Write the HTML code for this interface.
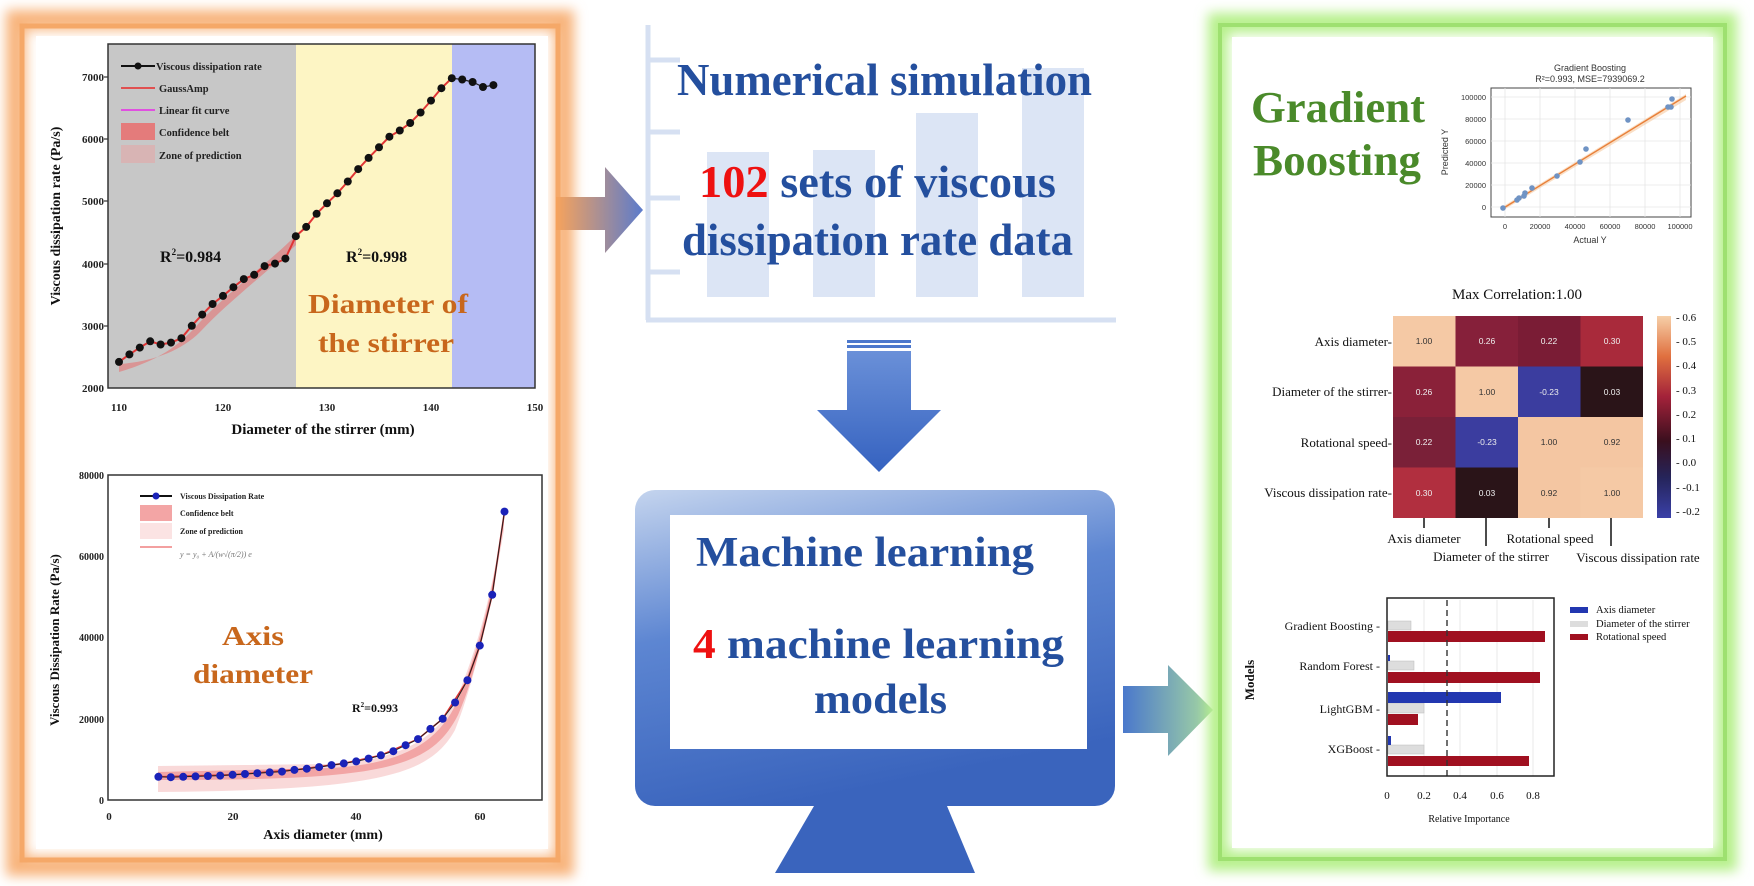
<!DOCTYPE html>
<html><head><meta charset="utf-8"><style>
html,body{margin:0;padding:0;background:#fff;}
svg{display:block;}
.s{font-family:"Liberation Serif",serif;}
.a{font-family:"Liberation Sans",sans-serif;}
</style></head><body>
<svg width="1754" height="886" viewBox="0 0 1754 886" xmlns="http://www.w3.org/2000/svg">
<defs>
<filter id="glow" x="-10%" y="-10%" width="120%" height="120%"><feGaussianBlur stdDeviation="6"/></filter>
<linearGradient id="ar1" x1="0" x2="1" y1="0" y2="0"><stop offset="0" stop-color="#f7a35c"/><stop offset="1" stop-color="#5b7bcc"/></linearGradient>
<linearGradient id="ar3" x1="0" x2="1" y1="0" y2="0"><stop offset="0" stop-color="#4a78cc"/><stop offset="1" stop-color="#a7d9a0"/></linearGradient>
<linearGradient id="mon" x1="0" x2="0.3" y1="0" y2="1"><stop offset="0" stop-color="#c4d4ee"/><stop offset="0.45" stop-color="#5d86d2"/><stop offset="1" stop-color="#3a64bd"/></linearGradient>
<linearGradient id="dn" x1="0" x2="0" y1="0" y2="1"><stop offset="0" stop-color="#6a90d8"/><stop offset="1" stop-color="#3562c0"/></linearGradient>
<linearGradient id="cb" x1="0" x2="0" y1="0" y2="1"><stop offset="0" stop-color="#f6cfa8"/><stop offset="0.2" stop-color="#e0703f"/><stop offset="0.4" stop-color="#a3223a"/><stop offset="0.62" stop-color="#3a0f1e"/><stop offset="0.8" stop-color="#25245a"/><stop offset="1" stop-color="#3a40a8"/></linearGradient>
</defs>

<!-- LEFT ORANGE PANEL -->
<rect x="16" y="20" width="548" height="846" fill="none" stroke="#f8b47c" stroke-width="20" filter="url(#glow)"/>
<rect x="22" y="26" width="536" height="834" fill="none" stroke="#f5a868" stroke-width="5"/>
<rect x="36" y="36" width="512" height="813" fill="#fff"/>

<!-- Plot 1 -->
<rect x="108" y="44" width="188" height="344" fill="#c7c7c7"/>
<rect x="296" y="44" width="156" height="344" fill="#fdf5c4"/>
<rect x="452" y="44" width="83" height="344" fill="#b5bcf4"/>
<rect x="108" y="44" width="427" height="344" fill="none" stroke="#333" stroke-width="1.5"/>
<path d="M119 372 C 160 360 180 345 200 322 C 230 290 270 262 296 235 L 296 245 C 270 270 230 300 200 332 C 180 352 150 362 119 364 Z" fill="#e86b6b" opacity="0.55"/>
<polyline fill="none" stroke="#e03535" stroke-width="2" points="119,361.9 129.4,354.4 139.8,347.6 150.2,341.3 160.6,344.5 171,342.6 181.4,338.2 191.8,325.8 202.2,314.6 212.6,304 223,295.9 233.4,287.2 243.8,279.1 254.2,274.8 264.6,266.1 275,263.6 285.4,258.6 295.8,236.2 306.2,226.9 316.6,213.8 327,203.3 337.4,193.3 347.8,181.5 358.2,169.1 368.6,157.9 379,147.3 389.4,136.7 399.8,130.5 410.2,123 420.6,112.5 431,100.6 441.4,88.2 451.8,78.2"/>
<polyline fill="none" stroke="#222" stroke-width="1.2" points="451.8,78.2 462.2,79.5 472.6,82 483,87 493.4,85.1"/>
<g fill="#111">
<circle cx="119" cy="361.9" r="4"/><circle cx="129.4" cy="354.4" r="4"/><circle cx="139.8" cy="347.6" r="4"/><circle cx="150.2" cy="341.3" r="4"/><circle cx="160.6" cy="344.5" r="4"/><circle cx="171" cy="342.6" r="4"/><circle cx="181.4" cy="338.2" r="4"/><circle cx="191.8" cy="325.8" r="4"/><circle cx="202.2" cy="314.6" r="4"/><circle cx="212.6" cy="304" r="4"/><circle cx="223" cy="295.9" r="4"/><circle cx="233.4" cy="287.2" r="4"/><circle cx="243.8" cy="279.1" r="4"/><circle cx="254.2" cy="274.8" r="4"/><circle cx="264.6" cy="266.1" r="4"/><circle cx="275" cy="263.6" r="4"/><circle cx="285.4" cy="258.6" r="4"/><circle cx="295.8" cy="236.2" r="4"/><circle cx="306.2" cy="226.9" r="4"/><circle cx="316.6" cy="213.8" r="4"/><circle cx="327" cy="203.3" r="4"/><circle cx="337.4" cy="193.3" r="4"/><circle cx="347.8" cy="181.5" r="4"/><circle cx="358.2" cy="169.1" r="4"/><circle cx="368.6" cy="157.9" r="4"/><circle cx="379" cy="147.3" r="4"/><circle cx="389.4" cy="136.7" r="4"/><circle cx="399.8" cy="130.5" r="4"/><circle cx="410.2" cy="123" r="4"/><circle cx="420.6" cy="112.5" r="4"/><circle cx="431" cy="100.6" r="4"/><circle cx="441.4" cy="88.2" r="4"/><circle cx="451.8" cy="78.2" r="4"/><circle cx="462.2" cy="79.5" r="4"/><circle cx="472.6" cy="82" r="4"/><circle cx="483" cy="87" r="4"/><circle cx="493.4" cy="85.1" r="4"/>
</g>
<!-- legend -->
<g class="s" font-size="10.5" font-weight="bold" fill="#222">
<line x1="121" y1="66" x2="155" y2="66" stroke="#111" stroke-width="2"/><circle cx="138" cy="66" r="3.5" fill="#111"/>
<text x="156" y="70">Viscous dissipation rate</text>
<line x1="121" y1="88" x2="155" y2="88" stroke="#e05050" stroke-width="2"/><text x="159" y="92">GaussAmp</text>
<line x1="121" y1="110" x2="155" y2="110" stroke="#e050e0" stroke-width="2"/><text x="159" y="114">Linear fit curve</text>
<rect x="121" y="123" width="34" height="17" fill="#e47b7b"/><text x="159" y="136">Confidence belt</text>
<rect x="121" y="145" width="34" height="18" fill="#d8b4b4"/><text x="159" y="159">Zone of prediction</text>
</g>
<text class="s" x="160" y="262" font-size="16" font-weight="bold" fill="#111">R<tspan font-size="9" dy="-7">2</tspan><tspan dy="7">=0.984</tspan></text>
<text class="s" x="346" y="262" font-size="16" font-weight="bold" fill="#111">R<tspan font-size="9" dy="-7">2</tspan><tspan dy="7">=0.998</tspan></text>
<text class="s" x="388" y="313" font-size="27" font-weight="bold" fill="#c8671c" text-anchor="middle" textLength="160" lengthAdjust="spacingAndGlyphs">Diameter of</text>
<text class="s" x="386" y="352" font-size="27" font-weight="bold" fill="#c8671c" text-anchor="middle" textLength="136" lengthAdjust="spacingAndGlyphs">the stirrer</text>
<g class="s" font-size="11" font-weight="bold" fill="#222" text-anchor="end">
<text x="104" y="81">7000</text><text x="104" y="143">6000</text><text x="104" y="205">5000</text><text x="104" y="268">4000</text><text x="104" y="330">3000</text><text x="104" y="392">2000</text>
</g>
<g stroke="#333" stroke-width="1.2"><line x1="104" y1="77" x2="108" y2="77"/><line x1="104" y1="139" x2="108" y2="139"/><line x1="104" y1="201" x2="108" y2="201"/><line x1="104" y1="264" x2="108" y2="264"/><line x1="104" y1="326" x2="108" y2="326"/></g>
<g class="s" font-size="11" font-weight="bold" fill="#222" text-anchor="middle">
<text x="119" y="411">110</text><text x="223" y="411">120</text><text x="327" y="411">130</text><text x="431" y="411">140</text><text x="535" y="411">150</text>
</g>
<text class="s" x="323" y="434" font-size="15" font-weight="bold" fill="#111" text-anchor="middle">Diameter of the stirrer  (mm)</text>
<text class="s" transform="translate(60,216) rotate(-90)" font-size="14" font-weight="bold" fill="#111" text-anchor="middle">Viscous dissipation rate (Pa/s)</text>

<!-- Plot 2 -->
<rect x="108" y="475" width="434" height="325" fill="none" stroke="#333" stroke-width="1.5"/>
<path d="M158 766 L 330 764 C 400 760 440 740 460 690 C 480 640 495 580 504 512 L 504 530 C 490 610 475 680 455 730 C 430 775 380 790 158 792 Z" fill="#f7c9c9" opacity="0.7"/>
<path d="M158 772 L 330 768 C 400 764 440 745 460 695 C 480 645 495 585 504 512 L 504 520 C 492 600 478 670 458 715 C 430 770 380 780 158 780 Z" fill="#ef8f8f" opacity="0.7"/>
<polyline fill="none" stroke="#d33" stroke-width="1.6" points="158.4,776.8 232.6,774.8 294.4,769.9 343.8,763.4 380.9,755.3 418,739.1 442.7,718.8 467.4,680.2 479.8,645.6 492.2,594.8 504.5,511.6"/>
<polyline fill="none" stroke="#222" stroke-width="1" points="158.4,776.8 170.8,777.2 183.2,776.8 195.5,776.4 207.9,776 220.2,775.6 232.6,774.8 245,774 257.3,773.2 269.7,772.4 282,771.6 294.4,769.9 306.8,768.7 319.1,767.1 331.5,765.1 343.8,763.4 356.2,761.4 368.6,758.6 380.9,755.3 393.3,751.2 405.6,745.2 418,739.1 430.4,728.9 442.7,718.8 455.1,702.5 467.4,680.2 479.8,645.6 492.2,594.8 504.5,511.6"/>
<g fill="#1a22b8">
<circle cx="158.4" cy="776.8" r="4"/><circle cx="170.8" cy="777.2" r="4"/><circle cx="183.2" cy="776.8" r="4"/><circle cx="195.5" cy="776.4" r="4"/><circle cx="207.9" cy="776" r="4"/><circle cx="220.2" cy="775.6" r="4"/><circle cx="232.6" cy="774.8" r="4"/><circle cx="245" cy="774" r="4"/><circle cx="257.3" cy="773.2" r="4"/><circle cx="269.7" cy="772.4" r="4"/><circle cx="282" cy="771.6" r="4"/><circle cx="294.4" cy="769.9" r="4"/><circle cx="306.8" cy="768.7" r="4"/><circle cx="319.1" cy="767.1" r="4"/><circle cx="331.5" cy="765.1" r="4"/><circle cx="343.8" cy="763.4" r="4"/><circle cx="356.2" cy="761.4" r="4"/><circle cx="368.6" cy="758.6" r="4"/><circle cx="380.9" cy="755.3" r="4"/><circle cx="393.3" cy="751.2" r="4"/><circle cx="405.6" cy="745.2" r="4"/><circle cx="418" cy="739.1" r="4"/><circle cx="430.4" cy="728.9" r="4"/><circle cx="442.7" cy="718.8" r="4"/><circle cx="455.1" cy="702.5" r="4"/><circle cx="467.4" cy="680.2" r="4"/><circle cx="479.8" cy="645.6" r="4"/><circle cx="492.2" cy="594.8" r="4"/><circle cx="504.5" cy="511.6" r="4"/>
</g>
<g class="s" font-size="8" font-weight="bold" fill="#222">
<line x1="140" y1="496" x2="172" y2="496" stroke="#111" stroke-width="2"/><circle cx="156" cy="496" r="3.5" fill="#1a22b8"/>
<text x="180" y="499">Viscous Dissipation Rate</text>
<rect x="140" y="505" width="32" height="16" fill="#f3a5a5"/><text x="180" y="516">Confidence belt</text>
<rect x="140" y="523" width="32" height="16" fill="#fbe3e3"/><text x="180" y="534">Zone of prediction</text>
<line x1="140" y1="547" x2="172" y2="547" stroke="#f3a0a0" stroke-width="2"/>
<text x="180" y="557" font-style="italic" font-weight="normal" fill="#777" font-size="8">y = y₀ + A/(w√(π/2)) e</text>
</g>
<text class="s" x="253" y="645" font-size="27" font-weight="bold" fill="#c8671c" text-anchor="middle" textLength="62" lengthAdjust="spacingAndGlyphs">Axis</text>
<text class="s" x="253" y="683" font-size="27" font-weight="bold" fill="#c8671c" text-anchor="middle" textLength="120" lengthAdjust="spacingAndGlyphs">diameter</text>
<text class="s" x="352" y="712" font-size="12" font-weight="bold" fill="#111">R<tspan font-size="7" dy="-5">2</tspan><tspan dy="5">=0.993</tspan></text>
<g class="s" font-size="10" font-weight="bold" fill="#222" text-anchor="end">
<text x="104" y="479">80000</text><text x="104" y="560">60000</text><text x="104" y="641">40000</text><text x="104" y="723">20000</text><text x="104" y="804">0</text>
</g>
<g class="s" font-size="11" font-weight="bold" fill="#222" text-anchor="middle">
<text x="109" y="820">0</text><text x="233" y="820">20</text><text x="356" y="820">40</text><text x="480" y="820">60</text>
</g>
<text class="s" x="323" y="839" font-size="14" font-weight="bold" fill="#111" text-anchor="middle">Axis diameter (mm)</text>
<text class="s" transform="translate(59,640) rotate(-90)" font-size="13" font-weight="bold" fill="#111" text-anchor="middle">Viscous Dissipation Rate (Pa/s)</text>

<!-- Arrow 1 -->
<path d="M556 197 L605 197 L605 167 L643 210 L605 253 L605 230 L556 230 Z" fill="url(#ar1)"/>

<!-- Center top box -->
<g fill="#dce5f5">
<rect x="707" y="152" width="62" height="145"/>
<rect x="813" y="150" width="62" height="147"/>
<rect x="916" y="113" width="62" height="184"/>
<rect x="1022" y="68" width="62" height="229"/>
</g>
<g stroke="#d6e0f2" stroke-width="5" fill="none">
<line x1="648" y1="25" x2="648" y2="320"/>
<line x1="646" y1="320" x2="1116" y2="320"/>
<line x1="648" y1="60" x2="680" y2="60"/>
<line x1="648" y1="132" x2="680" y2="132"/>
<line x1="648" y1="198" x2="680" y2="198"/>
<line x1="648" y1="272" x2="680" y2="272"/>
</g>
<text class="s" x="677" y="95" font-size="46" font-weight="bold" fill="#244f9e" textLength="415" lengthAdjust="spacingAndGlyphs">Numerical simulation</text>
<text class="s" x="699" y="197" font-size="46" font-weight="bold" fill="#244f9e" textLength="357" lengthAdjust="spacingAndGlyphs"><tspan fill="#ee1111">102</tspan> sets of viscous</text>
<text class="s" x="682" y="255" font-size="46" font-weight="bold" fill="#244f9e" textLength="391" lengthAdjust="spacingAndGlyphs">dissipation rate data</text>

<!-- Down arrow -->
<rect x="847" y="340" width="64" height="3" fill="#4d78cc"/>
<rect x="847" y="345" width="64" height="3" fill="#4d78cc"/>
<path d="M847 351 L911 351 L911 410 L941 410 L879 472 L817 410 L847 410 Z" fill="url(#dn)"/>

<!-- Monitor -->
<rect x="635" y="490" width="480" height="316" rx="20" fill="url(#mon)"/>
<path d="M814 806 L947 806 L975 873 L775 873 Z" fill="#3a64bd"/>
<rect x="670" y="515" width="417" height="234" fill="#fff"/>
<text class="s" x="696" y="566" font-size="42" font-weight="bold" fill="#244f9e" textLength="338" lengthAdjust="spacingAndGlyphs">Machine learning</text>
<text class="s" x="693" y="658" font-size="42" font-weight="bold" fill="#244f9e" textLength="371" lengthAdjust="spacingAndGlyphs"><tspan fill="#ee1111">4</tspan> machine learning</text>
<text class="s" x="814" y="713" font-size="42" font-weight="bold" fill="#244f9e" textLength="133" lengthAdjust="spacingAndGlyphs">models</text>

<!-- Arrow 3 -->
<path d="M1123 686 L1168 686 L1168 665 L1213 710 L1168 756 L1168 733 L1123 733 Z" fill="url(#ar3)"/>

<!-- GREEN PANEL -->
<rect x="1218" y="23" width="509" height="838" fill="none" stroke="#b6f08a" stroke-width="20" filter="url(#glow)"/>
<rect x="1220" y="25" width="505" height="834" fill="none" stroke="#9ee070" stroke-width="4"/>
<rect x="1232" y="37" width="481" height="811" fill="#fff"/>

<text class="s" x="1251" y="122" font-size="44" font-weight="bold" fill="#4a8a2a" textLength="174" lengthAdjust="spacingAndGlyphs">Gradient</text>
<text class="s" x="1253" y="175" font-size="44" font-weight="bold" fill="#4a8a2a" textLength="168" lengthAdjust="spacingAndGlyphs">Boosting</text>

<!-- scatter -->
<text class="a" x="1590" y="71" font-size="9" fill="#333" text-anchor="middle">Gradient Boosting</text>
<text class="a" x="1590" y="82" font-size="9" fill="#333" text-anchor="middle">R²=0.993, MSE=7939069.2</text>
<rect x="1491" y="88" width="200" height="129" fill="#fff" stroke="#444" stroke-width="1"/>
<g stroke="#e6e6e6" stroke-width="0.8">
<line x1="1505" y1="88" x2="1505" y2="217"/><line x1="1540" y1="88" x2="1540" y2="217"/><line x1="1575" y1="88" x2="1575" y2="217"/><line x1="1610" y1="88" x2="1610" y2="217"/><line x1="1645" y1="88" x2="1645" y2="217"/><line x1="1680" y1="88" x2="1680" y2="217"/>
<line x1="1491" y1="97" x2="1691" y2="97"/><line x1="1491" y1="119" x2="1691" y2="119"/><line x1="1491" y1="141" x2="1691" y2="141"/><line x1="1491" y1="163" x2="1691" y2="163"/><line x1="1491" y1="185" x2="1691" y2="185"/><line x1="1491" y1="207" x2="1691" y2="207"/>
</g>
<path d="M1502 207 L1686 94 L1686 100 L1502 211 Z" fill="#f6c9a0" opacity="0.6"/>
<line x1="1502" y1="209" x2="1686" y2="96" stroke="#e8803a" stroke-width="1.4"/>
<g fill="#6f93c4">
<circle cx="1503" cy="208" r="2.8"/><circle cx="1517" cy="200" r="2.8"/><circle cx="1519" cy="198" r="2.8"/><circle cx="1524" cy="196" r="2.8"/><circle cx="1525" cy="193" r="2.8"/><circle cx="1532" cy="188" r="2.8"/><circle cx="1557" cy="176" r="2.8"/><circle cx="1580" cy="162" r="2.8"/><circle cx="1586" cy="149" r="2.8"/><circle cx="1628" cy="120" r="2.8"/><circle cx="1668" cy="107" r="2.8"/><circle cx="1671" cy="107" r="2.8"/><circle cx="1672" cy="99" r="2.8"/>
</g>
<g class="a" font-size="7.5" fill="#333" text-anchor="end">
<text x="1486" y="100">100000</text><text x="1486" y="122">80000</text><text x="1486" y="144">60000</text><text x="1486" y="166">40000</text><text x="1486" y="188">20000</text><text x="1486" y="210">0</text>
</g>
<g class="a" font-size="7.5" fill="#333" text-anchor="middle">
<text x="1505" y="229">0</text><text x="1540" y="229">20000</text><text x="1575" y="229">40000</text><text x="1610" y="229">60000</text><text x="1645" y="229">80000</text><text x="1680" y="229">100000</text>
</g>
<text class="a" x="1590" y="243" font-size="9" fill="#333" text-anchor="middle">Actual Y</text>
<text class="a" transform="translate(1448,152) rotate(-90)" font-size="9" fill="#333" text-anchor="middle">Predicted Y</text>

<!-- heatmap -->
<text class="s" x="1517" y="299" font-size="15" fill="#111" text-anchor="middle">Max Correlation:1.00</text>
<g>
<rect x="1393" y="316" width="62.5" height="50.5" fill="#f5c9a5"/>
<rect x="1455.5" y="316" width="62.5" height="50.5" fill="#86203a"/>
<rect x="1518" y="316" width="62.5" height="50.5" fill="#7a1c35"/>
<rect x="1580.5" y="316" width="62.5" height="50.5" fill="#a92a3b"/>
<rect x="1393" y="366.5" width="62.5" height="50.5" fill="#8a2139"/>
<rect x="1455.5" y="366.5" width="62.5" height="50.5" fill="#f5c9a5"/>
<rect x="1518" y="366.5" width="62.5" height="50.5" fill="#3b3d9f"/>
<rect x="1580.5" y="366.5" width="62.5" height="50.5" fill="#2a1418"/>
<rect x="1393" y="417" width="62.5" height="50.5" fill="#7a2038"/>
<rect x="1455.5" y="417" width="62.5" height="50.5" fill="#3b3d9f"/>
<rect x="1518" y="417" width="62.5" height="50.5" fill="#f4c6a2"/>
<rect x="1580.5" y="417" width="62.5" height="50.5" fill="#f4c6a2"/>
<rect x="1393" y="467.5" width="62.5" height="50.5" fill="#b12f3f"/>
<rect x="1455.5" y="467.5" width="62.5" height="50.5" fill="#2a1418"/>
<rect x="1518" y="467.5" width="62.5" height="50.5" fill="#f4c6a2"/>
<rect x="1580.5" y="467.5" width="62.5" height="50.5" fill="#f5c9a5"/>
</g>
<g class="a" font-size="8.5" text-anchor="middle">
<text x="1424" y="344" fill="#333">1.00</text><text x="1487" y="344" fill="#eee">0.26</text><text x="1549" y="344" fill="#eee">0.22</text><text x="1612" y="344" fill="#eee">0.30</text>
<text x="1424" y="395" fill="#eee">0.26</text><text x="1487" y="395" fill="#333">1.00</text><text x="1549" y="395" fill="#eee">-0.23</text><text x="1612" y="395" fill="#eee">0.03</text>
<text x="1424" y="445" fill="#eee">0.22</text><text x="1487" y="445" fill="#eee">-0.23</text><text x="1549" y="445" fill="#333">1.00</text><text x="1612" y="445" fill="#333">0.92</text>
<text x="1424" y="496" fill="#eee">0.30</text><text x="1487" y="496" fill="#eee">0.03</text><text x="1549" y="496" fill="#333">0.92</text><text x="1612" y="496" fill="#333">1.00</text>
</g>
<g class="s" font-size="13" fill="#111" text-anchor="end">
<text x="1392" y="346">Axis diameter-</text><text x="1392" y="396">Diameter of the stirrer-</text><text x="1392" y="447">Rotational speed-</text><text x="1392" y="497">Viscous dissipation rate-</text>
</g>
<rect x="1657" y="316" width="14" height="202" fill="url(#cb)"/>
<g class="s" font-size="11" fill="#111">
<text x="1676" y="321">- 0.6</text><text x="1676" y="345">- 0.5</text><text x="1676" y="369">- 0.4</text><text x="1676" y="394">- 0.3</text><text x="1676" y="418">- 0.2</text><text x="1676" y="442">- 0.1</text><text x="1676" y="466">- 0.0</text><text x="1676" y="491">- -0.1</text><text x="1676" y="515">- -0.2</text>
</g>
<g stroke="#111" stroke-width="1.5">
<line x1="1424" y1="518" x2="1424" y2="528"/><line x1="1486" y1="518" x2="1486" y2="546"/><line x1="1549" y1="518" x2="1549" y2="528"/><line x1="1611" y1="518" x2="1611" y2="546"/>
</g>
<g class="s" font-size="13" fill="#111" text-anchor="middle">
<text x="1424" y="543">Axis diameter</text><text x="1550" y="543">Rotational speed</text><text x="1491" y="561">Diameter of the stirrer</text><text x="1638" y="562">Viscous dissipation rate</text>
</g>

<!-- bar chart -->
<g stroke="#e3e3e3" stroke-width="0.8">
<line x1="1424" y1="600" x2="1424" y2="776"/><line x1="1460" y1="600" x2="1460" y2="776"/><line x1="1497" y1="600" x2="1497" y2="776"/><line x1="1533" y1="600" x2="1533" y2="776"/>
</g>
<g fill="#ddd" stroke="#bbb" stroke-width="0.5">
<rect x="1388" y="621" width="23" height="9"/><rect x="1388" y="661" width="26" height="9"/><rect x="1388" y="703" width="36" height="10"/><rect x="1388" y="745" width="36" height="9"/>
</g>
<g fill="#a01020">
<rect x="1388" y="631" width="157" height="11"/><rect x="1388" y="672" width="152" height="11"/><rect x="1388" y="714" width="30" height="11"/><rect x="1388" y="756" width="141" height="10"/>
</g>
<g fill="#2237b0">
<rect x="1388" y="655" width="2" height="6"/><rect x="1388" y="692" width="113" height="11"/><rect x="1388" y="736" width="3" height="9"/>
</g>
<line x1="1447" y1="600" x2="1447" y2="776" stroke="#333" stroke-width="1.4" stroke-dasharray="6,4"/>
<rect x="1387" y="598" width="167" height="178" fill="none" stroke="#222" stroke-width="1.5"/>
<g class="s" font-size="12" fill="#111" text-anchor="end">
<text x="1380" y="630">Gradient Boosting -</text><text x="1380" y="670">Random Forest -</text><text x="1380" y="713">LightGBM -</text><text x="1380" y="753">XGBoost -</text>
</g>
<g class="s" font-size="11" fill="#111" text-anchor="middle">
<text x="1387" y="799">0</text><text x="1424" y="799">0.2</text><text x="1460" y="799">0.4</text><text x="1497" y="799">0.6</text><text x="1533" y="799">0.8</text>
</g>
<text class="s" x="1469" y="822" font-size="10" fill="#111" text-anchor="middle">Relative Importance</text>
<text class="s" transform="translate(1254,680) rotate(-90)" font-size="13" font-weight="bold" fill="#111" text-anchor="middle">Models</text>
<g class="s" font-size="10.5" fill="#111">
<rect x="1570" y="607" width="18" height="6" fill="#2237b0"/><text x="1596" y="613">Axis diameter</text>
<rect x="1570" y="621" width="18" height="6" fill="#ddd"/><text x="1596" y="627">Diameter of the stirrer</text>
<rect x="1570" y="634" width="18" height="6" fill="#a01020"/><text x="1596" y="640">Rotational speed</text>
</g>
</svg>
</body></html>
